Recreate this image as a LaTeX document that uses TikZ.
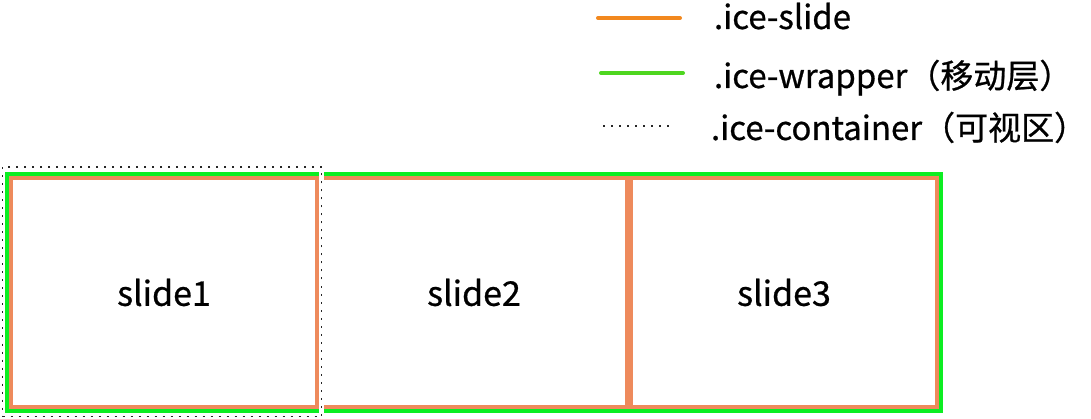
\documentclass[tikz,border=0pt]{standalone}
\usepackage{fontspec}
\setmainfont{Noto Sans CJK SC}[FakeBold=0.7]
\usetikzlibrary{positioning,fit}

\definecolor{slideorange}{RGB}{238,138,92}
\definecolor{keyorange}{RGB}{242,136,30}
\definecolor{wrapgreen}{RGB}{12,238,34}
\definecolor{keygreen}{RGB}{78,214,32}

\begin{document}
\begin{tikzpicture}[x=1pt,y=-1pt,node distance=4pt,
                    inner sep=0pt,outer sep=0pt]
    \tikzset{
      slidebox/.style={
        rectangle,
        draw=slideorange,
        line width=4pt,
        minimum width=306pt,
        minimum height=229pt,
        font=\fontsize{34}{40}\selectfont
      },
      wrapperbox/.style={
        draw=wrapgreen,
        line width=4pt,
        inner sep=4pt
      },
      viewdash/.style={
        draw=black!85,
        line width=1.8pt,
        dash pattern=on 2pt off 6pt
      },
      viewbox/.style={
        rectangle,
        viewdash,
        preaction={draw=white, line width=5pt, solid},
        minimum width=319pt,
        minimum height=249.5pt
      },
      keyline/.style={
        line width=4pt,
        line cap=round
      },
      keytext/.style={
        anchor=base west,
        font=\fontsize{33}{40}\selectfont
      }
    }
    \useasboundingbox (0,0) rectangle (1091,419);

    % slides
    \node [slidebox] (slide1) at (164,292.5) {slide1};
    \node [slidebox] (slide2) [right=of slide1] {slide2};
    \node [slidebox] (slide3) [right=of slide2] {slide3};

    % moving layer
    \node [wrapperbox, fit=(slide1)(slide3)] (wrapper) {};

    % visible area
    \node [viewbox] (container) at (162,291.75) {};

    % legend
    \coordinate (k1a) at (598,18);  \coordinate (k1b) at (680,18);
    \coordinate (k2a) at (601,73);  \coordinate (k2b) at (683,73);
    \coordinate (k3a) at (603,126); \coordinate (k3b) at (673,126);
    \draw [keyline, keyorange] (k1a) -- (k1b);
    \draw [keyline, keygreen]  (k2a) -- (k2b);
    \draw [viewdash] (k3a) -- (k3b);

    \node [keytext] (keyslide)     at (714,29)  {.ice-slide};
    \node [keytext] (keywrapper)   at (714,88)  {.ice-wrapper（移动层）};
    \node [keytext] (keycontainer) at (711,140) {.ice-container（可视区）};
\end{tikzpicture}
\end{document}
